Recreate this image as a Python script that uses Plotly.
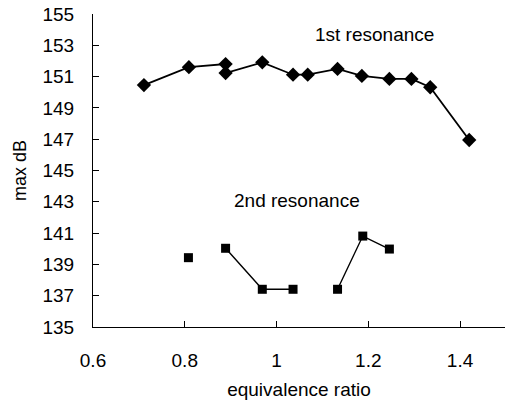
import plotly.graph_objects as go

# 1st resonance
x1 = [0.711, 0.809, 0.889, 0.889, 0.969, 1.036, 1.068, 1.133, 1.186, 1.246, 1.294, 1.335, 1.420]
y1 = [150.46, 151.6, 151.8, 151.23, 151.91, 151.12, 151.12, 151.49, 151.04, 150.85, 150.85, 150.32, 146.95]

# 2nd resonance (None marks a break in the line)
x2 = [0.808, None, 0.889, 0.969, 1.036, None, 1.133, 1.188, 1.246]
y2 = [139.43, None, 140.03, 137.41, 137.41, None, 137.41, 140.81, 139.98]

x_ticks = [0.6, 0.8, 1.0, 1.2, 1.4]
x_ticktext = ["0.6", "0.8", "1", "1.2", "1.4"]
y_ticks = [135, 137, 139, 141, 143, 145, 147, 149, 151, 153, 155]

FONT = "Liberation Sans, Arial, sans-serif"

fig = go.Figure()
fig.add_trace(go.Scatter(
    x=x1, y=y1, mode="lines+markers",
    line=dict(color="black", width=1.8),
    marker=dict(symbol="diamond", size=11, color="black"),
    showlegend=False,
))
fig.add_trace(go.Scatter(
    x=x2, y=y2, mode="lines+markers", connectgaps=False,
    line=dict(color="black", width=1.4),
    marker=dict(symbol="square", size=9, color="black"),
    showlegend=False,
))

fig.update_layout(
    width=505, height=401,
    margin=dict(l=93, r=0, t=14, b=74),
    plot_bgcolor="white", paper_bgcolor="white",
    font=dict(family=FONT, size=19, color="black"),
    xaxis=dict(
        range=[0.6, 1.498], tickvals=x_ticks, ticktext=x_ticktext,
        showline=True, linecolor="black", linewidth=1.2,
        ticks="inside", ticklen=6, tickcolor="black",
        ticklabelstandoff=16,
        showgrid=False, zeroline=False,
        title=dict(text="equivalence ratio", standoff=12, font=dict(size=19)),
    ),
    yaxis=dict(
        range=[135, 155], tickvals=y_ticks,
        showline=True, linecolor="black", linewidth=1.2,
        ticks="inside", ticklen=6, tickcolor="black",
        ticklabelstandoff=14,
        showgrid=False, zeroline=False,
        title=dict(text="max dB", standoff=11, font=dict(size=18)),
    ),
    annotations=[
        dict(x=1.214, y=153.66, xref="x", yref="y", text="1st resonance", showarrow=False,
             font=dict(family=FONT, size=19, color="black")),
        dict(x=1.044, y=143.1, xref="x", yref="y", text="2nd resonance", showarrow=False,
             font=dict(family=FONT, size=19, color="black")),
    ],
)

fig.write_html("out.html")
